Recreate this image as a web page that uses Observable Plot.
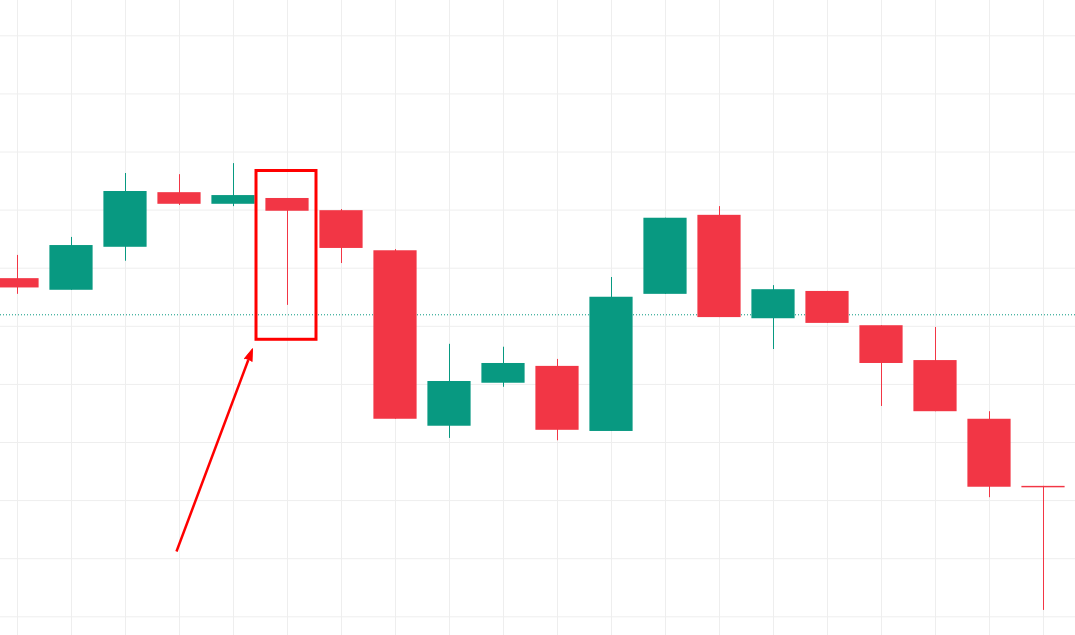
<!DOCTYPE html>
<html>
<head>
<meta charset="utf-8">
<script src="https://cdn.jsdelivr.net/npm/d3@7"></script>
<script src="https://cdn.jsdelivr.net/npm/@observablehq/plot@0.6"></script>
<style>
  html, body { margin: 0; padding: 0; background: #ffffff; }
  #chart svg { display: block; }
</style>
</head>
<body>
<div id="chart"></div>
<script>
// Candle data (index, open, high, low, close) in price units
const candleIndex = [0, 1, 2, 3, 4, 5, 6, 7, 8, 9, 10, 11, 12, 13, 14, 15, 16, 17, 18, 19];
const openValues  = [158.2, 156.2, 163.6, 173.0, 171.0, 172.0, 169.9, 163.0, 132.8, 140.2, 143.1, 131.9, 155.5, 169.1, 151.3, 156.0, 150.1, 144.1, 134.0, 122.45];
const highValues  = [162.2, 165.3, 176.3, 176.1, 178.0, 172.0, 170.1, 163.2, 146.9, 146.4, 144.3, 158.4, 168.6, 170.6, 157.0, 156.0, 150.1, 149.8, 135.3, 122.45];
const lowValues   = [155.5, 156.2, 161.2, 170.8, 170.6, 153.6, 160.8, 134.0, 130.7, 139.5, 130.3, 131.9, 155.5, 151.5, 146.0, 150.5, 136.2, 135.3, 120.5, 101.1];
const closeValues = [156.6, 163.9, 173.2, 171.0, 172.5, 169.8, 163.4, 134.0, 140.5, 143.6, 132.1, 155.0, 168.6, 151.5, 156.3, 150.5, 143.6, 135.3, 122.3, 122.2];

// Horizontal grid levels and reference price line
const gridLevels = [100, 110, 120, 130, 140, 150, 160, 170, 180, 190, 200];
const referencePrice = [151.98];

// Annotation: highlight box around candle 5, and an arrow pointing at it
const highlightBox = [{x1: 4.426, x2: 5.537, y1: 147.68, y2: 176.73}];
const arrowLine = [{x1: 2.944, y1: 111.24, x2: 4.274, y2: 144.2}];
const arrowHead = [{x: 4.274, y: 144.2}];

const upColor = "#089981";
const downColor = "#F23645";

const candles = candleIndex.map((i, k) => ({
  i,
  open: openValues[k],
  high: highValues[k],
  low: lowValues[k],
  close: closeValues[k]
}));
const colorOf = d => (d.close >= d.open ? upColor : downColor);

const W = 1075, H = 635;
const band = 54, first = 17;

const chart = Plot.plot({
  width: W,
  height: H,
  margin: 0,
  style: { background: "#ffffff", overflow: "visible" },
  x: { type: "linear", domain: [-first / band, (W - first) / band], axis: null },
  y: { type: "linear", domain: [96.781, 206.076], axis: null },
  marks: [
    Plot.ruleY(gridLevels, { stroke: "#eeeeee", strokeWidth: 1 }),
    Plot.ruleX(candleIndex, { stroke: "#eeeeee", strokeWidth: 1 }),
    Plot.ruleY(referencePrice, { stroke: upColor, strokeWidth: 1, strokeDasharray: "1,2" }),
    Plot.ruleX(candles, { x: "i", y1: "low", y2: "high", stroke: colorOf, strokeWidth: 1 }),
    Plot.rect(candles, {
      x1: d => d.i - 0.4,
      x2: d => d.i + 0.4,
      y1: "open",
      y2: "close",
      fill: colorOf
    }),
    Plot.rect(highlightBox, { x1: "x1", x2: "x2", y1: "y1", y2: "y2", fill: "none", stroke: "#ff0000", strokeWidth: 3 }),
    Plot.link(arrowLine, { x1: "x1", y1: "y1", x2: "x2", y2: "y2", stroke: "#ff0000", strokeWidth: 2.5 }),
    Plot.vector(arrowHead, { x: "x", y: "y", shape: "spike", length: 12, r: 4, rotate: 20.5, anchor: "start", fill: "#ff0000", stroke: "#ff0000", strokeWidth: 1 })
  ]
});

document.getElementById("chart").appendChild(chart);
</script>
</body>
</html>
